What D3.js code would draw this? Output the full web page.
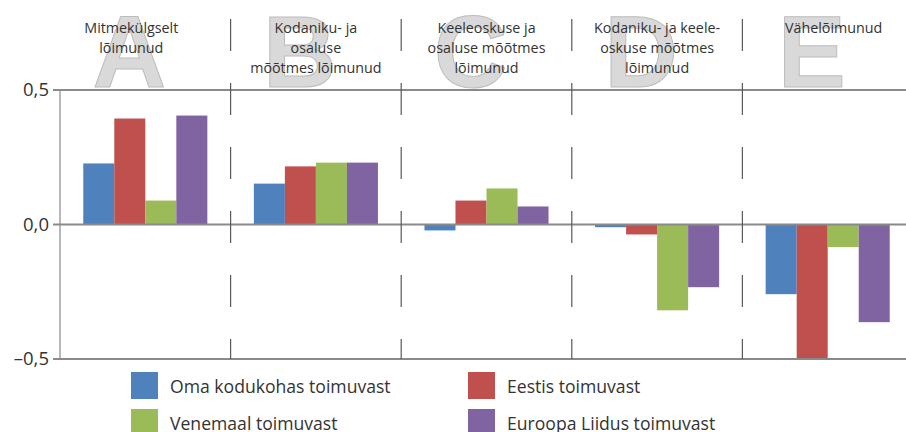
<!DOCTYPE html>
<html><head><meta charset="utf-8">
<script src="https://cdn.jsdelivr.net/npm/d3@7"></script>
<style>body{margin:0;background:#fff}svg{display:block}</style>
</head><body>
<svg id="c" width="906" height="432"></svg>
<script>
const categories = [
  ["Mitmekülgselt", "lõimunud"],
  ["Kodaniku- ja", "osaluse", "mõõtmes lõimunud"],
  ["Keeleoskuse ja", "osaluse mõõtmes", "lõimunud"],
  ["Kodaniku- ja keele-", "oskuse mõõtmes", "lõimunud"],
  ["Vähelõimunud"]
];
const letters = ["A", "B", "C", "D", "E"];
const seriesNames = ["Oma kodukohas toimuvast", "Eestis toimuvast", "Venemaal toimuvast", "Euroopa Liidus toimuvast"];
const colors = ["#4F81BD", "#C0504D", "#9BBB59", "#8064A2"];
const omaKodukohas = [0.227, 0.152, -0.022, -0.010, -0.259];
const eestis       = [0.394, 0.216, 0.089, -0.037, -0.498];
const venemaal     = [0.089, 0.230, 0.134, -0.319, -0.084];
const euroopaLiit  = [0.405, 0.230, 0.067, -0.233, -0.363];
const tickValues = [0.5, 0, -0.5];
const tickLabels = ["0,5", "0,0", "–0,5"];

const series = [omaKodukohas, eestis, venemaal, euroopaLiit];
const svg = d3.select("#c");
const y = d3.scaleLinear().domain([-0.5, 0.5]).range([359, 90]);
const x0 = d3.scaleBand().domain(d3.range(5)).range([60, 913]).padding(0);
const x1 = d3.scaleBand().domain(d3.range(4)).range([0, x0.bandwidth()]).paddingInner(0).paddingOuter(0.75);

// big letters
svg.append("g").selectAll("text").data(letters).join("text")
  .attr("x", (d, i) => x0(i) + x0.bandwidth() / 2 - 16)
  .attr("y", 87)
  .attr("text-anchor", "middle")
  .attr("font-family", "Liberation Sans, Arial, sans-serif")
  .attr("font-weight", "bold")
  .attr("font-size", 102)
  .attr("fill", "#d9d9d9")
  .attr("stroke", "#bdbdbd")
  .attr("stroke-width", 1)
  .text(d => d);

// category labels
const lab = svg.append("g").selectAll("text").data(categories).join("text")
  .attr("text-anchor", "middle")
  .attr("font-family", "Open Sans, sans-serif")
  .attr("font-size", 14.3)
  .attr("fill", "#333");
lab.each(function(lines, i) {
  d3.select(this).selectAll("tspan").data(lines).join("tspan")
    .attr("x", x0(i) + x0.bandwidth() / 2 + (i === 0 ? -14 : i === 4 ? 6 : 0))
    .attr("y", (d, j) => 33 + j * 20)
    .text(d => d);
});

// bars
const g = svg.append("g");
series.forEach((vals, s) => {
  g.selectAll(null).data(vals).join("rect")
    .attr("x", (d, i) => x0(i) + x1(s))
    .attr("width", x1.bandwidth())
    .attr("y", d => y(Math.max(0, d)))
    .attr("height", d => Math.abs(y(d) - y(0)))
    .attr("fill", colors[s]);
});

// left axis line
svg.append("line").attr("x1", 60).attr("x2", 60).attr("y1", y(0.5)).attr("y2", y(-0.5))
  .attr("stroke", "#a0a0a0").attr("stroke-width", 1.5);

// horizontal lines
svg.append("g").selectAll("line").data(tickValues).join("line")
  .attr("x1", 53).attr("x2", 906)
  .attr("y1", d => y(d)).attr("y2", d => y(d))
  .attr("stroke", "#8a8a8a").attr("stroke-width", 2);

// tick labels
svg.append("g").selectAll("text").data(tickValues).join("text")
  .attr("x", 49).attr("y", d => y(d) + 6)
  .attr("text-anchor", "end")
  .attr("font-family", "Open Sans, sans-serif")
  .attr("font-size", 18.5)
  .attr("fill", "#333")
  .text((d, i) => tickLabels[i]);

// separators
svg.append("g").selectAll("line").data(d3.range(1, 5)).join("line")
  .attr("x1", i => x0(i)).attr("x2", i => x0(i))
  .attr("y1", 19).attr("y2", y(-0.5))
  .attr("stroke", "#5a5a5a").attr("stroke-width", 1.2)
  .attr("stroke-dasharray", "32,32");

// legend
const legPos = [[131, 372], [468, 372], [131, 409], [468, 409]];
const leg = svg.append("g").selectAll("g").data(seriesNames).join("g")
  .attr("transform", (d, i) => `translate(${legPos[i][0]},${legPos[i][1]})`);
leg.append("rect").attr("width", 27).attr("height", 27).attr("fill", (d, i) => colors[i]);
leg.append("text").attr("x", 39).attr("y", 21)
  .attr("font-family", "Open Sans, sans-serif").attr("font-size", 17.6).attr("fill", "#333")
  .text(d => d);
</script>
</body></html>
